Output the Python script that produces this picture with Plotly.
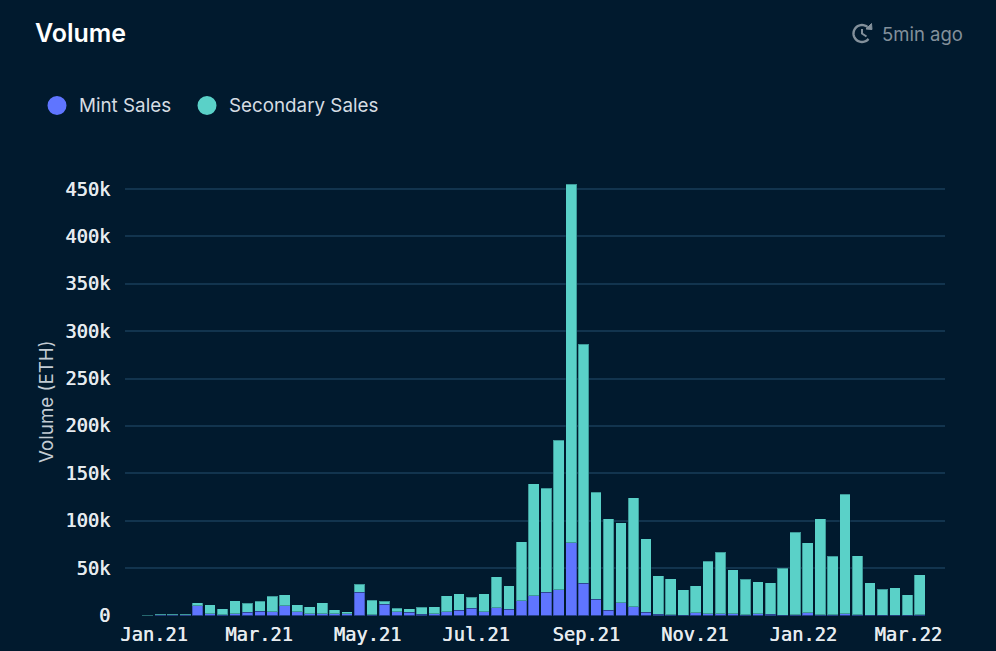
# %%
import numpy as np
import pandas as pd
import plotly.graph_objects as go

W, H = 996, 651
BG = "#011a2e"
MINT_COLOR = "#5f75ff"
SECONDARY_COLOR = "#5ad1c8"
GRID_COLOR = "#12344e"

# %%
# weekly volume in k ETH
week_starts = pd.date_range("2020-12-28 12:00", periods=63, freq="7D")

mint_sales = [0, 0.2, 0.2, 1, 10.2, 1.8, 0.7, 2.1, 3.5, 4.6, 4.2, 10.2, 3.9, 2.1, 1.8, 1.8,
              1.8, 24.3, 1, 12, 4.2, 3.5, 1.4, 2.1, 4.2, 5.3, 7.7, 4.2, 8.4, 6.7, 15.5, 21,
              24.3, 27.4, 76.7, 33.8, 17.2, 5.6, 13.7, 9.5, 3.2, 1.4, 0.7, 0.4, 2.8, 2.1, 1.8,
              1.8, 1, 1.8, 1.4, 0.4, 0.7, 2.8, 0.7, 0.7, 1.8, 0.7, 0.5, 0.3, 0.3, 0.3, 0.7]
secondary_sales = [0.5, 1.3, 1.3, 1, 3.2, 9.8, 6.3, 13.7, 9.5, 10.2, 16.2, 11.6, 7.7, 7, 11.9, 4.2,
                   2.4, 8.7, 15.2, 2.8, 3.2, 3.5, 7.4, 7, 16.5, 17.9, 11.3, 19, 32.6, 24.6, 62.2, 118,
                   109.7, 157.6, 378.3, 252.2, 112.8, 96.4, 84.1, 114.5, 78, 40.8, 38, 27, 28.5, 55.2, 64.7,
                   46.4, 37.3, 33.7, 33.4, 49.2, 87.2, 74.2, 101.6, 61.9, 125.9, 62.6, 34, 27.5, 28.9, 21.5, 42.2]

y_ticks = [0, 50, 100, 150, 200, 250, 300, 350, 400, 450]
y_labels = ["0", "50k", "100k", "150k", "200k", "250k", "300k", "350k", "400k", "450k"]
x_ticks = ["2021-01-01", "2021-03-01", "2021-05-01", "2021-07-01",
           "2021-09-01", "2021-11-01", "2022-01-01", "2022-03-01"]
x_labels = ["Jan.21", "Mar.21", "May.21", "Jul.21", "Sep.21", "Nov.21", "Jan.22", "Mar.22"]


# %%
def px_x(x):
    return x / W


def px_y(y):
    return 1 - y / H


def text(x, y, s, size, color, weight=400, anchor="left", angle=0):
    return dict(xref="paper", yref="paper", x=px_x(x), y=px_y(y), text=s, showarrow=False,
                xanchor=anchor, yanchor="middle", textangle=angle,
                font=dict(family="Inter", size=size, color=color, weight=weight))


def dot(cx, cy, r, color):
    return dict(type="circle", xref="paper", yref="paper", line_width=0, fillcolor=color,
                x0=px_x(cx - r), x1=px_x(cx + r), y0=px_y(cy + r), y1=px_y(cy - r))


def polyline(points, color, width=2.4, fill=None):
    path = "M " + " L ".join(f"{px_x(x):.5f},{px_y(y):.5f}" for x, y in points)
    if fill:
        path += " Z"
    return dict(type="path", xref="paper", yref="paper", path=path, fillcolor=fill,
                line=dict(color=color, width=width))


# clock icon next to the refresh time
ICON = "#83909b"
cx, cy, r = 862, 33.5, 8.5
angles = np.radians(np.arange(40, 320, 10))
clock_arc = [(cx + r * np.cos(a), cy + r * np.sin(a)) for a in angles]
clock_hands = [(cx, cy - 4.5), (cx, cy), (cx + 4.5, cy + 3)]
clock_arrow = [(cx + 4, cy - 4.5), (cx + 10, cy - 4), (cx + 9.5, cy - 10)]
# shadow thickens the regular mono a little, the reference is a medium weight
mono = dict(family="DejaVu Sans Mono", size=18.7, color="#e6ebef", weight=400,
            shadow="0.5px 0 0 #e6ebef")

# %%
fig = go.Figure()
fig.add_bar(x=week_starts, y=mint_sales, name="Mint Sales", marker_color=MINT_COLOR,
            marker_line=dict(color="rgba(1,26,46,0.3)", width=1))
fig.add_bar(x=week_starts, y=secondary_sales, name="Secondary Sales", marker_color=SECONDARY_COLOR,
            marker_line=dict(color="rgba(1,26,46,0.3)", width=1))

fig.update_layout(
    width=W, height=H, barmode="stack", bargap=0.14, showlegend=False,
    margin=dict(l=0, r=0, t=0, b=0), paper_bgcolor=BG, plot_bgcolor=BG,
    xaxis=dict(type="date", domain=[px_x(125), px_x(945)], automargin=False,
               range=["2020-12-15 16:00", "2022-03-21 16:00"],
               tickvals=x_ticks, ticktext=x_labels, showgrid=False, zeroline=False,
               ticks="outside", ticklen=2, tickcolor="rgba(0,0,0,0)", tickfont=mono),
    yaxis=dict(domain=[px_y(615.5), px_y(170)], range=[0, 470], automargin=False,
               tickvals=y_ticks, ticktext=y_labels, showgrid=True, gridcolor=GRID_COLOR, gridwidth=1.5,
               zeroline=False, ticks="outside", ticklen=10, tickcolor="rgba(0,0,0,0)", tickfont=mono),
    annotations=[
        text(33, 33, "Volume", 25, "#ffffff", 600),
        text(880, 33.5, "5min ago", 18.5, ICON),
        text(77, 105.5, "Mint Sales", 18.8, "#d6dde3"),
        text(227, 105.5, "Secondary Sales", 18.8, "#d6dde3"),
        text(46, 402, "Volume (ETH)", 18.8, "#c3ccd4", angle=-90, anchor="center"),
    ],
    shapes=[
        dot(57, 105.5, 9.5, MINT_COLOR),
        dot(207, 105.5, 9.5, SECONDARY_COLOR),
        polyline(clock_arc, ICON),
        polyline(clock_hands, ICON, 2),
        polyline(clock_arrow, ICON, 1, fill=ICON),
    ],
)

fig.write_html("out.html", config={"displayModeBar": False},
               post_script="document.body.style.margin='0';")
